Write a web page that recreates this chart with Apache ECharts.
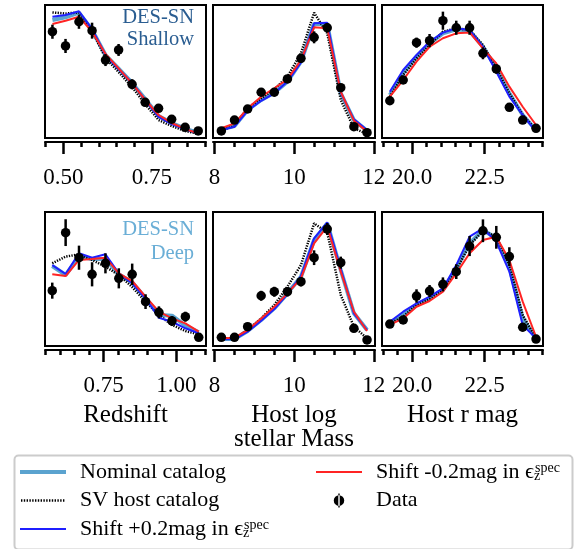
<!DOCTYPE html>
<html><head><meta charset="utf-8">
<script src="https://cdn.jsdelivr.net/npm/echarts@6/dist/echarts.min.js"></script>
<style>html,body{margin:0;padding:0;background:#fff}#c{width:575px;height:549px}</style>
</head><body><div id="c"></div>
<script>
// ---------- x bin centres ----------
const zShallowX = [0.469,0.506,0.544,0.581,0.619,0.656,0.694,0.731,0.769,0.806,0.844,0.881];
const zDeepX    = [0.573,0.619,0.665,0.710,0.756,0.802,0.848,0.894,0.940,0.985,1.031,1.077];
const massX     = [8.17,8.50,8.83,9.17,9.50,9.83,10.17,10.50,10.83,11.17,11.50,11.83];
const magX      = [19.23,19.69,20.15,20.60,21.06,21.52,21.98,22.44,22.90,23.35,23.81,24.27];

// ---------- DES-SN Shallow: redshift ----------
const zShData  = [79.9,69.2,87.4,80.7,58.6,66.2,40.4,26.8,22.3,14.1,8.0,5.3];
const zShErr   = [5.3,5.3,5.3,6.0,4.5,4.5,3.8,3.0,2.6,2.3,1.9,1.5];
const zShNom   = [88.7,90.8,94.2,81.2,62.4,52.1,41.4,29.3,16.5,11.3,7.0,3.8];
const zShSV    = [94.4,93.6,94.4,80.5,60.2,49.6,38.3,25.6,13.5,9.0,5.3,3.4];
const zShPlus  = [91.2,92.5,95.3,82.0,62.4,51.9,41.4,28.6,15.8,10.5,6.5,3.5];
const zShMinus = [85.7,88.2,91.2,79.9,63.2,52.4,41.1,28.9,17.3,11.3,6.8,3.5];

// ---------- DES-SN Shallow: host mass ----------
const mShData  = [5.3,13.5,21.8,34.4,34.4,44.4,59.9,75.7,82.9,37.8,8.5,4.0];
const mShErr   = [1.5,2,2.5,3,3,3,3.5,4.5,3.5,3,2,1.5];
const mShNom   = [6.5,9.0,21.1,28.6,34.1,42.4,57.4,85.7,85.7,33.6,13.5,5.5];
const mShSV    = [6.0,9.0,22.3,29.8,36.6,46.1,63.7,94.2,78.7,28.6,7.3,3.0];
const mShPlus  = [6.0,8.5,20.5,28.0,33.6,42.4,56.9,86.2,86.7,34.1,14.0,6.0];
const mShMinus = [7.3,11.0,22.3,31.1,37.4,44.1,58.6,83.2,82.5,34.8,13.0,4.8];

// ---------- DES-SN Shallow: host r mag ----------
const rShData  = [28.0,43.6,71.7,73.2,88.2,82.9,82.9,63.7,51.9,23.1,13.5,7.3];
const rShErr   = [2.5,3,3.8,5,6.8,5.3,5.3,4.5,3.5,2.5,2,1.5];
const rShNom   = [32.3,48.6,61.1,71.2,78.7,81.7,80.7,68.6,52.4,33.6,17.3,6.0];
const rShSV    = [31.1,47.4,59.9,69.9,79.9,82.5,81.2,69.9,52.4,33.6,17.3,6.0];
const rShPlus  = [34.8,51.1,62.4,72.4,79.2,82.5,81.2,68.6,49.8,31.1,17.3,4.8];
const rShMinus = [31.1,43.6,57.4,68.6,75.0,78.7,79.4,67.4,56.1,38.6,23.5,9.8];

// ---------- DES-SN Deep: redshift ----------
const zDpData  = [41.3,84.6,65.9,53.5,61.7,50.5,53.5,33.1,25.1,18.7,21.9,6.5];
const zDpErr   = [6,10,9,9,7.5,7.5,8,5.5,4.5,3.7,3.7,2];
const zDpNom   = [59.7,53.0,66.7,64.9,64.9,53.5,47.5,35.6,23.1,22.6,15.2,10.2];
const zDpSV    = [61.7,66.7,68.4,64.2,59.2,53.0,44.0,33.1,23.1,15.7,11.2,8.7];
const zDpPlus  = [60.4,53.7,69.2,65.9,68.4,54.2,46.8,35.6,21.1,18.1,13.2,9.5];
const zDpMinus = [53.5,52.2,64.2,64.9,65.9,54.2,48.5,36.8,25.6,20.6,16.9,10.7];

// ---------- DES-SN Deep: host mass ----------
const mDpData  = [6.5,6.5,14.4,37.5,40.5,40.5,48.0,65.9,87.3,62.2,13.2,4.5];
const mDpErr   = [2,2,2.5,3.7,3.7,3.5,3.5,5.5,4.5,4.5,2.5,2];
const mDpNom   = [5.2,5.2,11.2,19.4,28.1,39.3,51.7,79.1,91.5,56.7,24.4,11.9];
const mDpSV    = [5.2,5.7,11.9,20.6,30.6,44.3,60.4,91.5,84.8,38.1,14.4,5.7];
const mDpPlus  = [5.0,5.2,10.7,18.9,27.6,38.8,52.2,80.4,92.3,57.5,24.4,11.9];
const mDpMinus = [5.7,6.2,11.9,20.6,29.3,39.3,50.5,76.6,89.0,55.5,25.6,11.2];

// ---------- DES-SN Deep: host r mag ----------
const rDpData  = [16.4,19.4,37.3,41.0,46.0,55.5,74.6,86.0,81.1,66.7,14.0,5.2];
const rDpErr   = [2.5,3,5,4.5,5.2,5.5,7.5,8.5,8.5,7,3,2];
const rDpNom   = [17.4,23.1,30.6,35.6,41.8,58.0,76.6,86.6,80.4,59.2,20.6,5.2];
const rDpSV    = [16.9,21.9,30.6,35.1,42.3,56.7,75.4,85.8,81.6,60.4,23.1,5.7];
const rDpPlus  = [18.1,25.6,31.8,36.8,43.0,60.4,81.6,87.8,77.8,55.5,15.7,5.7];
const rDpMinus = [15.7,20.6,29.3,33.6,40.5,54.2,69.2,79.1,81.6,64.2,33.1,6.9];

// ---------- ticks ----------
const zShMinorTicks = [0.45,0.50,0.55,0.60,0.65,0.70,0.75,0.80,0.85,0.90];
const zShMajorTicks = [0.50,0.75];
const zDpMinorTicks = [0.55,0.60,0.65,0.70,0.75,0.80,0.85,0.90,0.95,1.00,1.05,1.10];
const zDpMajorTicks = [0.75,1.00];
const massMinorTicks = [8,8.5,9,9.5,10,10.5,11,11.5,12];
const massMajorTicks = [8,10,12];
const magMinorTicks = [19,19.5,20,20.5,21,21.5,22,22.5,23,23.5,24,24.5];
const magMajorTicks = [20.0,22.5];

const axisNames = ['Redshift', 'Host log\nstellar Mass', 'Host r mag'];
const seriesNames = ['Nominal catalog','SV host catalog','Shift +0.2mag','Shift -0.2mag','Data'];

// ---------- build ----------
const FONT = '"Liberation Serif", "DejaVu Serif", serif';
const NOM_C = '#5ba3cf', BLUE_C = '#1f1fff', RED_C = '#ff2424';
const zip = (xs, ys) => xs.map((x, i) => [x, ys[i]]);

const panels = [
  {x: zShallowX, d: zShData, e: zShErr, nom: zShNom, sv: zShSV, plus: zShPlus, minus: zShMinus,
   range: [0.448, 0.903], minor: zShMinorTicks, major: zShMajorTicks, fmt: v => v.toFixed(2),
   grid: {left: 45, top: 5, width: 161, height: 133}, name: ''},
  {x: massX, d: mShData, e: mShErr, nom: mShNom, sv: mShSV, plus: mShPlus, minus: mShMinus,
   range: [7.96, 12.03], minor: massMinorTicks, major: massMajorTicks, fmt: v => String(Math.round(v)),
   grid: {left: 213, top: 5, width: 162, height: 133}, name: ''},
  {x: magX, d: rShData, e: rShErr, nom: rShNom, sv: rShSV, plus: rShPlus, minus: rShMinus,
   range: [18.96, 24.51], minor: magMinorTicks, major: magMajorTicks, fmt: v => v.toFixed(1),
   grid: {left: 382, top: 5, width: 161, height: 133}, name: ''},
  {x: zDeepX, d: zDpData, e: zDpErr, nom: zDpNom, sv: zDpSV, plus: zDpPlus, minus: zDpMinus,
   range: [0.548, 1.102], minor: zDpMinorTicks, major: zDpMajorTicks, fmt: v => v.toFixed(2),
   grid: {left: 45, top: 212, width: 161, height: 134}, name: axisNames[0]},
  {x: massX, d: mDpData, e: mDpErr, nom: mDpNom, sv: mDpSV, plus: mDpPlus, minus: mDpMinus,
   range: [7.96, 12.03], minor: massMinorTicks, major: massMajorTicks, fmt: v => String(Math.round(v)),
   grid: {left: 213, top: 212, width: 162, height: 134}, name: axisNames[1]},
  {x: magX, d: rDpData, e: rDpErr, nom: rDpNom, sv: rDpSV, plus: rDpPlus, minus: rDpMinus,
   range: [18.96, 24.51], minor: magMinorTicks, major: magMajorTicks, fmt: v => v.toFixed(1),
   grid: {left: 382, top: 212, width: 161, height: 134}, name: axisNames[2]}
];

const grids = [], xAxes = [], yAxes = [], series = [];
panels.forEach((p, i) => {
  grids.push(Object.assign({show: true, borderColor: '#000', borderWidth: 2, backgroundColor: 'transparent'}, p.grid));
  xAxes.push({gridIndex: i, type: 'value', min: p.range[0], max: p.range[1], position: 'bottom', offset: 4,
    axisLine: {show: true, onZero: false, lineStyle: {color: '#000', width: 2}},
    axisTick: {show: true, customValues: p.minor, length: 5, lineStyle: {color: '#000', width: 2.5}},
    axisLabel: {show: false}, splitLine: {show: false}});
  xAxes.push({gridIndex: i, type: 'value', min: p.range[0], max: p.range[1], position: 'bottom', offset: 4,
    axisLine: {show: false, onZero: false},
    axisTick: {show: true, customValues: p.major, length: 12, lineStyle: {color: '#000', width: 2.5}},
    axisLabel: {show: true, customValues: p.major, formatter: p.fmt, margin: 24, fontSize: 23,
      color: '#000', fontFamily: FONT},
    splitLine: {show: false},
    name: p.name, nameLocation: 'middle', nameGap: 53,
    nameTextStyle: {fontSize: 25, color: '#000', fontFamily: FONT, lineHeight: 24}});
  yAxes.push({gridIndex: i, type: 'value', min: 0, max: 100, show: false});
  const xi = 2 * i, yi = i;
  series.push({type: 'line', name: seriesNames[0], xAxisIndex: xi, yAxisIndex: yi, data: zip(p.x, p.nom),
    symbol: 'none', lineStyle: {color: NOM_C, width: 4}, itemStyle: {color: NOM_C, borderWidth: 0}, z: 2});
  series.push({type: 'line', name: seriesNames[1], xAxisIndex: xi, yAxisIndex: yi, data: zip(p.x, p.sv),
    symbol: 'none', lineStyle: {color: '#000', width: 2.5, type: [1.3, 1.3]}, itemStyle: {color: '#000', borderWidth: 0}, z: 3});
  series.push({type: 'line', name: seriesNames[2], xAxisIndex: xi, yAxisIndex: yi, data: zip(p.x, p.plus),
    symbol: 'none', lineStyle: {color: BLUE_C, width: 2}, itemStyle: {color: BLUE_C, borderWidth: 0}, z: 4});
  series.push({type: 'line', name: seriesNames[3], xAxisIndex: xi, yAxisIndex: yi, data: zip(p.x, p.minus),
    symbol: 'none', lineStyle: {color: RED_C, width: 2}, itemStyle: {color: RED_C, borderWidth: 0}, z: 5});
  series.push({type: 'custom', name: seriesNames[4], xAxisIndex: xi, yAxisIndex: yi,
    data: p.x.map((x, k) => [x, p.d[k], p.e[k]]), encode: {x: 0, y: 1}, z: 6,
    itemStyle: {color: '#000', borderWidth: 0},
    renderItem: (params, api) => {
      const x = api.value(0), y = api.value(1), e = api.value(2);
      const a = api.coord([x, y - e]), b = api.coord([x, y + e]);
      return {type: 'line', shape: {x1: a[0], y1: a[1], x2: b[0], y2: b[1]}, style: {stroke: '#000', lineWidth: 2.5}};
    }});
  series.push({type: 'scatter', name: seriesNames[4], xAxisIndex: xi, yAxisIndex: yi, data: zip(p.x, p.d),
    symbol: 'circle', symbolSize: 9.5, itemStyle: {color: '#000', opacity: 1}, z: 7});
});

const legendLabel = {
  'Nominal catalog': 'Nominal catalog',
  'SV host catalog': 'SV host catalog',
  'Shift +0.2mag': 'Shift +0.2mag in ϵ{sub|z}{sup|spec}',
  'Shift -0.2mag': 'Shift -0.2mag in ϵ{sub|z}{sup|spec}',
  'Data': 'Data'
};
const legendText = {
  fontFamily: FONT, fontSize: 22, color: '#000', lineHeight: 22, padding: [0, 0, 0, 9],
  rich: {
    sub: {fontFamily: FONT, fontSize: 14, color: '#000', verticalAlign: 'bottom', lineHeight: 14, width: 1},
    sup: {fontFamily: FONT, fontSize: 14, color: '#000', verticalAlign: 'top', lineHeight: 14}
  }
};
// legend icon shapes (decoration only)
const thickLineIcon = 'path://M0,0 L46,0 L46,4 L0,4 Z';
const thinLineIcon = 'path://M0,0 L46,0 L46,2 L0,2 Z';
let dotted = 'path://';
for (let k = 0; k < 16; k++) { const a = 1 + k * 2.8; dotted += `M${a},0 L${a + 1.4},0 L${a + 1.4},2.4 L${a},2.4 Z `; }
const svIcon = dotted + 'M0,0 L0.01,0 Z M46,0 L46.01,0 Z';
const dataIcon = 'path://M5.2,0 L6.8,0 L6.8,16 L5.2,16 Z M0,8 A6,6 0 1,0 12,8 A6,6 0 1,0 0,8 Z';

const legendBase = {orient: 'vertical', top: 461, height: 120, padding: 0, itemWidth: 46, itemHeight: 14, itemGap: 6.5,
  selectedMode: false, formatter: n => legendLabel[n], textStyle: legendText, itemStyle: {borderWidth: 0}};

const option = {
  animation: false,
  backgroundColor: '#fff',
  textStyle: {fontFamily: FONT},
  grid: grids, xAxis: xAxes, yAxis: yAxes, series: series,
  legend: [
    Object.assign({}, legendBase, {left: 20, data: [
      {name: 'Nominal catalog', icon: thickLineIcon},
      {name: 'SV host catalog', icon: svIcon},
      {name: 'Shift +0.2mag', icon: thinLineIcon}]}),
    Object.assign({}, legendBase, {left: 316, data: [
      {name: 'Shift -0.2mag', icon: thinLineIcon},
      {name: 'Data', icon: dataIcon}]})
  ],
  graphic: [
    {type: 'rect', left: 12, top: 453, z: -1, shape: {width: 558, height: 94, r: 4},
     style: {fill: 'none', stroke: '#cccccc', lineWidth: 2}},
    {type: 'text', x: 194, y: 7, z: 10,
     style: {text: 'DES-SN\nShallow', align: 'right', verticalAlign: 'top', fontFamily: FONT, fontSize: 20.5,
       lineHeight: 22, fill: '#2a5d91'}},
    {type: 'text', x: 194, y: 218, z: 10,
     style: {text: 'DES-SN\nDeep', align: 'right', verticalAlign: 'top', fontFamily: FONT, fontSize: 20.5,
       lineHeight: 24, fill: '#6aaed6'}}
  ]
};

const chart = echarts.init(document.getElementById('c'), null, {renderer: 'canvas'});
chart.setOption(option);
</script>
</body></html>
